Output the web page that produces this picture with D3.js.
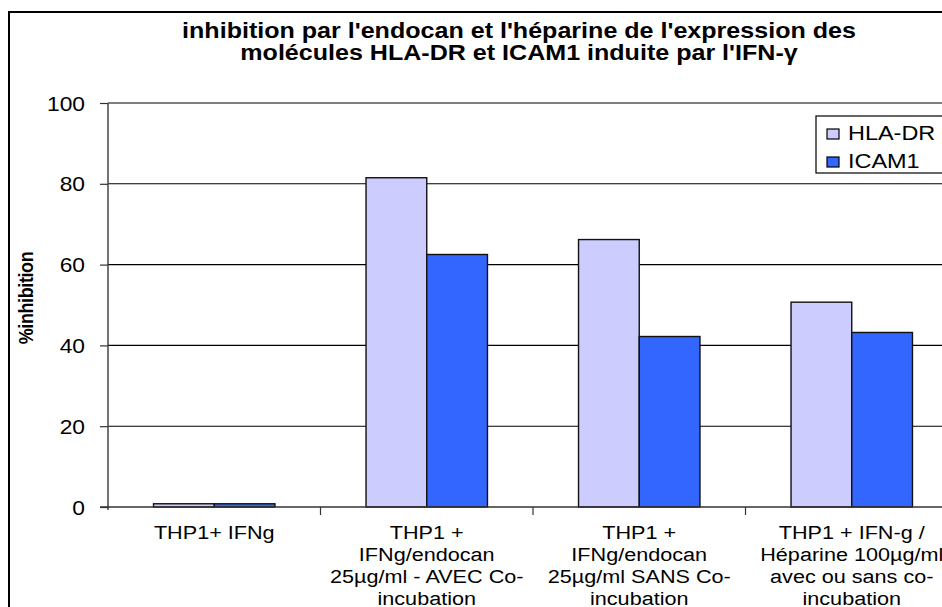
<!DOCTYPE html>
<html>
<head>
<meta charset="utf-8">
<script src="https://cdn.jsdelivr.net/npm/d3@7"></script>
<style>
  html, body { margin: 0; padding: 0; background: #fff; overflow: hidden; }
  svg { display: block; }
  text { font-family: "Liberation Sans", Arial, sans-serif; fill: #000; }
</style>
</head>
<body>
<svg id="chart" width="942" height="607"></svg>
<script>
// ---- data ----
const categories = [
  "THP1+ IFNg",
  "THP1 +\nIFNg/endocan\n25µg/ml - AVEC Co-\nincubation",
  "THP1 +\nIFNg/endocan\n25µg/ml SANS Co-\nincubation",
  "THP1 + IFN-g /\nHéparine 100µg/ml\navec ou sans co-\nincubation"
];
const seriesNames = ["HLA-DR", "ICAM1"];
const hlaDR = [0.8, 81.5, 66.2, 50.7];
const icam1 = [0.8, 62.5, 42.2, 43.2];
const yTicks = [0, 20, 40, 60, 80, 100];
const titleLines = [
  "inhibition par l'endocan et l'héparine de l'expression des",
  "molécules HLA-DR et ICAM1 induite par l'IFN-γ"
];
const yTitle = "%inhibition";
const colors = ["#CCCCFF", "#3366FF"];

// ---- layout ----
const SX = 1.15;                // horizontal stretch of the lettering
const plot = { left: 108, right: 958, top: 103, bottom: 507 };

const svg = d3.select("#chart");

// chart frame
svg.append("rect")
  .attr("x", 9).attr("y", 12).attr("width", 1100).attr("height", 700)
  .attr("fill", "#fff").attr("stroke", "#000").attr("stroke-width", 2);

// helper: stretched text at (x, y)
function stext(g, x, y, str, size, weight, anchor) {
  return g.append("text")
    .attr("transform", `translate(${x},${y}) scale(${SX},1)`)
    .attr("text-anchor", anchor || "middle")
    .style("font-size", size + "px")
    .style("font-weight", weight || "normal")
    .text(str);
}

// title
titleLines.forEach((t, i) => stext(svg, 519, 38 + i * 22, t, 21.8, "bold"));

// scales
const x = d3.scaleBand().domain(categories).range([plot.left, plot.right])
  .paddingInner(3 / 7).paddingOuter(3 / 14);
const xs = d3.scaleBand().domain(seriesNames).range([0, x.bandwidth()]);
const y = d3.scaleLinear().domain([0, 100]).range([plot.bottom, plot.top]);

// gridlines
svg.append("g").selectAll("line").data(yTicks.filter(d => d > 0)).join("line")
  .attr("x1", plot.left).attr("x2", plot.right + 60)
  .attr("y1", d => y(d)).attr("y2", d => y(d))
  .attr("stroke", "#000").attr("stroke-width", 1.1);

// bars
const series = [hlaDR, icam1];
const groups = svg.append("g").selectAll("g").data(categories).join("g")
  .attr("transform", d => `translate(${x(d)},0)`);
groups.selectAll("rect")
  .data((d, i) => seriesNames.map((s, k) => ({ s, v: series[k][i], k })))
  .join("rect")
  .attr("x", d => xs(d.s))
  .attr("y", d => y(d.v))
  .attr("width", xs.bandwidth())
  .attr("height", d => y(0) - y(d.v))
  .attr("fill", d => colors[d.k])
  .attr("stroke", "#111").attr("stroke-width", 1.4);

// y axis
const yAxis = svg.append("g").attr("transform", `translate(${plot.left},0)`)
  .call(d3.axisLeft(y).tickValues(yTicks).tickSize(8).tickSizeOuter(0));
yAxis.select(".domain").attr("stroke", "#444").attr("stroke-width", 1.5)
  .attr("d", `M0,${plot.top}V${plot.bottom + 3}`);
yAxis.selectAll(".tick line").attr("stroke", "#333").attr("stroke-width", 1.2);
yAxis.selectAll(".tick text")
  .attr("x", null).attr("dy", null)
  .attr("transform", `translate(-23,7) scale(${SX},1)`)
  .style("font-size", "19.8px")
  .style("font-family", "'Liberation Sans', Arial, sans-serif")
  .attr("fill", "#000");

// x axis line with category separators
const boundaries = categories.map(c => x(c) - x.step() * x.paddingInner() / 2)
  .concat([plot.right]);
svg.append("line")
  .attr("x1", plot.left - 8).attr("x2", plot.right + 60)
  .attr("y1", plot.bottom).attr("y2", plot.bottom)
  .attr("stroke", "#333").attr("stroke-width", 1.4);
svg.append("g").selectAll("line").data(boundaries.slice(1)).join("line")
  .attr("x1", d => d).attr("x2", d => d)
  .attr("y1", plot.bottom).attr("y2", plot.bottom + 8)
  .attr("stroke", "#333").attr("stroke-width", 1.2);

// category labels
categories.forEach(c => {
  const cx = x(c) + x.bandwidth() / 2;
  c.split("\n").forEach((line, i) =>
    stext(svg, cx, 539 + i * 22, line, 18.8, "normal"));
});

// y axis title
svg.append("text")
  .attr("transform", `translate(33,298) rotate(-90) scale(1,${SX})`)
  .attr("text-anchor", "middle")
  .style("font-size", "18px").style("font-weight", "bold")
  .style("letter-spacing", "-0.4px")
  .text(yTitle);

// legend
const legend = svg.append("g");
legend.append("rect")
  .attr("x", 816).attr("y", 116).attr("width", 200).attr("height", 57)
  .attr("fill", "#fff").attr("stroke", "#000").attr("stroke-width", 1.2);
seriesNames.forEach((s, i) => {
  legend.append("rect")
    .attr("x", 827).attr("y", 129 + i * 28).attr("width", 12).attr("height", 10)
    .attr("fill", colors[i]).attr("stroke", "#000").attr("stroke-width", 1.2);
  stext(legend, 848, 140 + i * 28, s, 20.4, "normal", "start");
});
</script>
</body>
</html>
